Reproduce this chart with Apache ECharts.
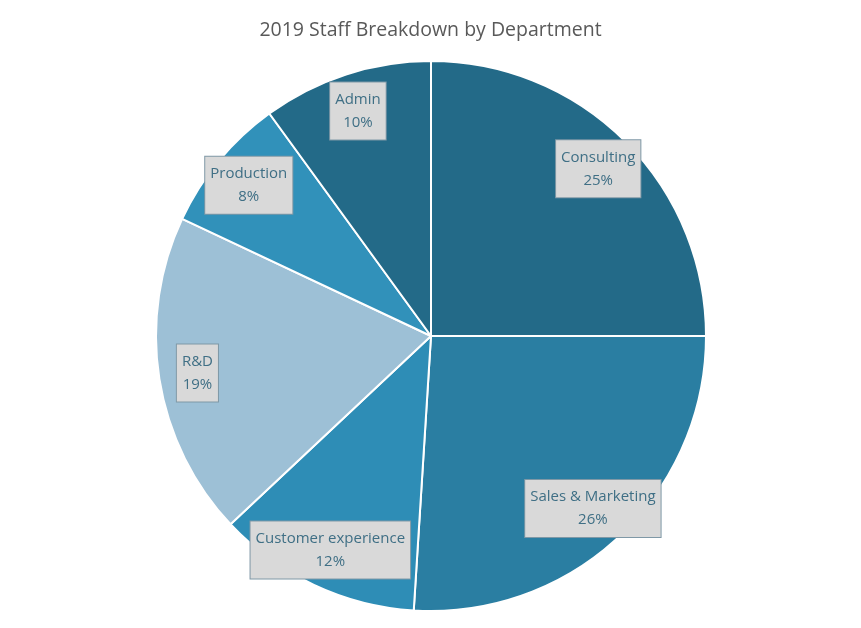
<!DOCTYPE html>
<html><head><meta charset="utf-8">
<script src="https://cdn.jsdelivr.net/npm/echarts@6/dist/echarts.min.js"></script>
<style>html,body{margin:0;padding:0;background:#fff}#c{width:861px;height:628px}</style>
</head><body><div id="c"></div>
<script>
const categories = ['Consulting','Sales & Marketing','Customer experience','R&D','Production','Admin'];
const values = [25, 26, 12, 19, 8, 10];
const colors = ['#236a88','#2a7ea2','#2e8db6','#9dc0d6','#3191ba','#236a88'];
const titleText = '2019 Staff Breakdown by Department';

const data = categories.map((n,i)=>({name:n, value:values[i], itemStyle:{color:colors[i]}}));
const chart = echarts.init(document.getElementById('c'));
chart.setOption({
  animation:false,
  title:{text:titleText, left:'center', top:15, textStyle:{fontFamily:'Open Sans', fontSize:19.5, fontWeight:'normal', color:'#595959'}},
  series:[
    {type:'pie', center:[431,336], radius:[0,275], startAngle:90, clockwise:true, silent:true,
     itemStyle:{borderColor:'#ffffff', borderWidth:2},
     label:{show:false}, labelLine:{show:false}, data:data},
    {type:'pie', center:[431,336], radius:[192,275], startAngle:90, clockwise:true, silent:true,
     itemStyle:{color:'rgba(0,0,0,0)', borderWidth:0},
     labelLine:{show:false},
     label:{show:true, position:'inside', formatter:'{b}\n{d}%', fontFamily:'Open Sans', fontSize:15, lineHeight:23,
       color:'#3f6f85', backgroundColor:'#d9d9d9', borderColor:'#7f98a6', borderWidth:1, padding:[6,5,5,5], align:'center'},
     data:categories.map((n,i)=>({name:n, value:values[i]}))}
  ]
});
</script></body></html>
